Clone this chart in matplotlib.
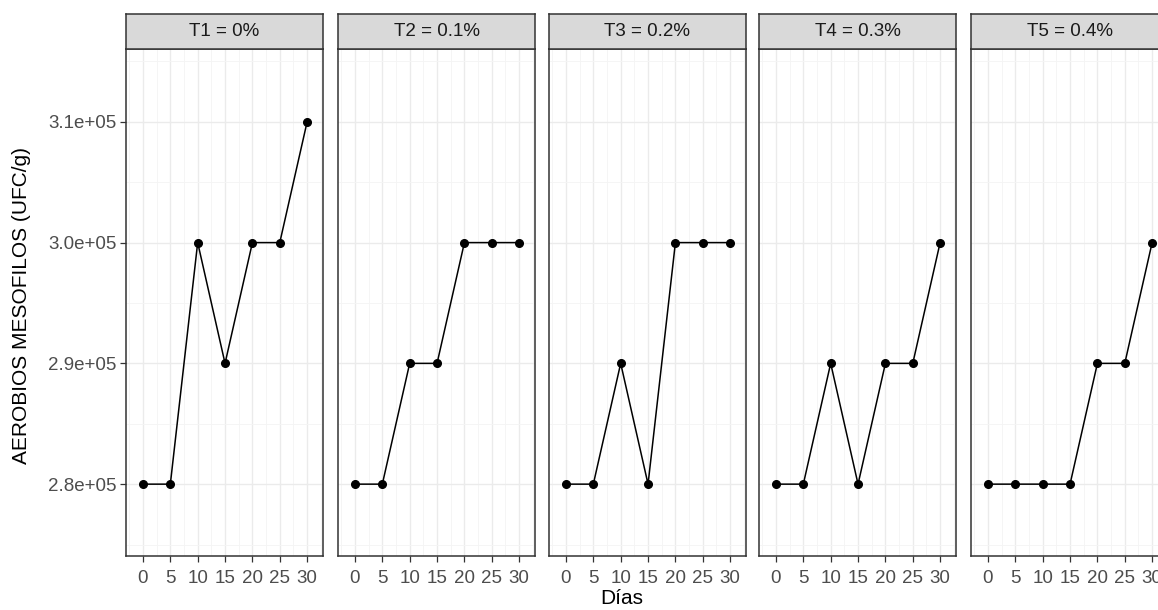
import matplotlib
matplotlib.use("Agg")
import matplotlib.pyplot as plt
from matplotlib.ticker import FuncFormatter, MultipleLocator

plt.rcParams['font.family'] = ['Liberation Sans', 'DejaVu Sans']

dias = [0, 5, 10, 15, 20, 25, 30]
panel_titles = ["T1 = 0%", "T2 = 0.1%", "T3 = 0.2%", "T4 = 0.3%", "T5 = 0.4%"]
t1 = [280000, 280000, 300000, 290000, 300000, 300000, 310000]
t2 = [280000, 280000, 290000, 290000, 300000, 300000, 300000]
t3 = [280000, 280000, 290000, 280000, 300000, 300000, 300000]
t4 = [280000, 280000, 290000, 280000, 290000, 290000, 300000]
t5 = [280000, 280000, 280000, 280000, 290000, 290000, 300000]
series = [t1, t2, t3, t4, t5]
y_ticks = [280000, 290000, 300000, 310000]

W, H = 1158, 610
fig = plt.figure(figsize=(W / 100, H / 100), dpi=100)

lefts = [126, 338, 549, 759, 971]
pw = 197
top, bottom = 49, 556
strip_top = 14

def fmt(v, pos):
    return "%.1e" % v

for i, (lx, title, ys) in enumerate(zip(lefts, panel_titles, series)):
    ax = fig.add_axes([lx / W, 1 - bottom / H, pw / W, (bottom - top) / H])
    ax.set_xlim(-3.1, 32.9)
    ax.set_ylim(274050, 316030)
    ax.set_xticks(dias)
    ax.set_yticks(y_ticks)
    ax.xaxis.set_minor_locator(MultipleLocator(5, offset=2.5))
    ax.yaxis.set_minor_locator(MultipleLocator(10000, offset=5000))
    ax.grid(which='major', color='#EBEBEB', linewidth=1.0)
    ax.grid(which='minor', color='#F4F4F4', linewidth=0.6)
    ax.set_axisbelow(True)
    ax.tick_params(which='minor', length=0)
    ax.tick_params(which='major', length=4, color='#333333', labelcolor='#4D4D4D',
                   labelsize=13.5, width=0.9)
    ax.tick_params(axis='x', pad=6)
    ax.tick_params(axis='y', pad=3)
    ax.yaxis.set_major_formatter(FuncFormatter(fmt))
    if i > 0:
        ax.tick_params(axis='y', left=False, labelleft=False)
    for s in ax.spines.values():
        s.set_color('#333333')
        s.set_linewidth(1.1)
    ax.plot(dias, ys, color='black', linewidth=1.1, marker='o', markersize=5.5,
            markerfacecolor='black', markeredgecolor='black', zorder=3, clip_on=False)
    # strip
    sax = fig.add_axes([lx / W, 1 - top / H, pw / W, (top - strip_top) / H])
    sax.set_facecolor('#D9D9D9')
    sax.set_xticks([])
    sax.set_yticks([])
    for s in sax.spines.values():
        s.set_color('#333333')
        s.set_linewidth(1.1)
    sax.text(0.5, 0.5, title, ha='center', va='center', fontsize=13.5,
             color='#1A1A1A', transform=sax.transAxes)

fig.text(22 / W, 1 - 305 / H, "AEROBIOS MESOFILOS (UFC/g)", rotation=90,
         ha='center', va='center', fontsize=15, color='black')
fig.text(622 / W, 1 - 599 / H, "Días", ha='center', va='center',
         fontsize=15, color='black')

fig.savefig("out.png", dpi=100)
